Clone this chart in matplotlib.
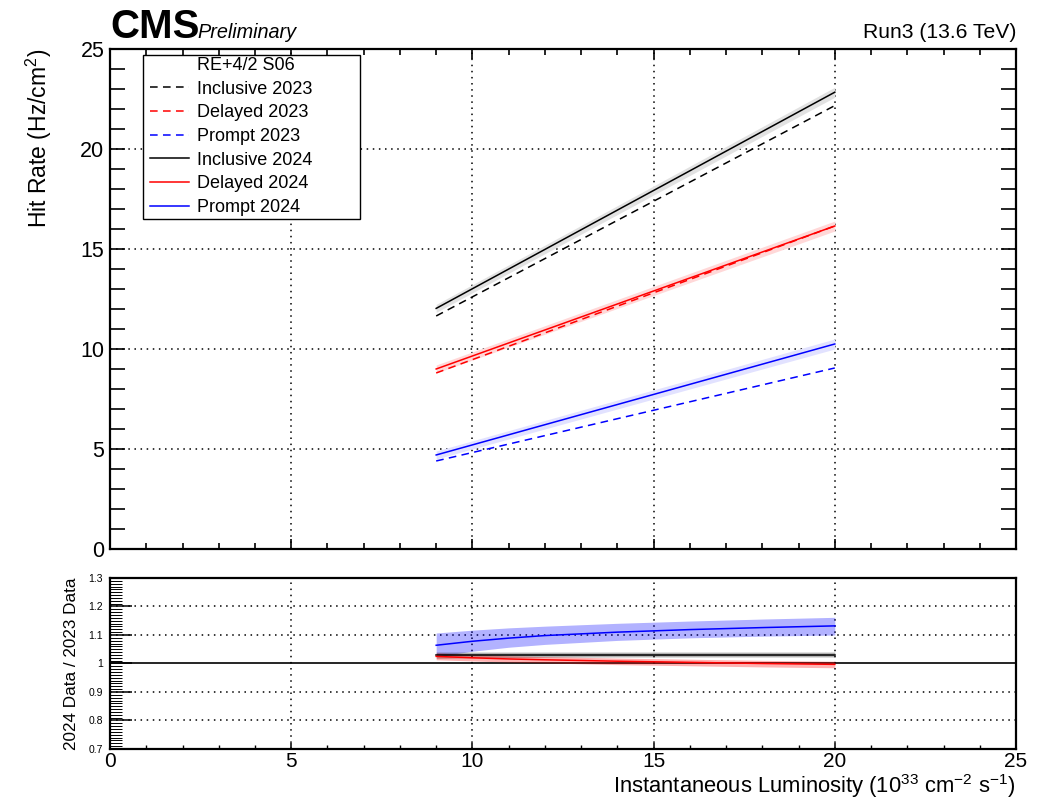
import numpy as np
import matplotlib.pyplot as plt
from matplotlib.lines import Line2D
from matplotlib.patches import Rectangle
from matplotlib.ticker import MultipleLocator, FixedLocator

plt.rcParams['font.family'] = ['Liberation Sans', 'DejaVu Sans']
plt.rcParams['mathtext.fontset'] = 'custom'
plt.rcParams['mathtext.rm'] = 'Liberation Sans'

# fitted lines, values at lumi 9 and 20
lumi = [9, 20]
incl_2023 = [11.65, 22.17]
delay_2023 = [8.8, 16.15]
prompt_2023 = [4.4, 9.05]
incl_2024 = [12.03, 22.84]
delay_2024 = [9.0, 16.15]
prompt_2024 = [4.7, 10.25]
band_2024 = [0.2, 0.25]  # half width of the 2024 fit bands

# ratio 2024/2023
lumi_r = [9, 10, 11, 12, 14, 16, 18, 20]
ratio_incl = [1.031, 1.031, 1.031, 1.031, 1.031, 1.031, 1.031, 1.031]
ratio_incl_lo = [1.018, 1.020, 1.021, 1.022, 1.023, 1.023, 1.023, 1.023]
ratio_incl_hi = [1.040, 1.040, 1.040, 1.040, 1.040, 1.040, 1.040, 1.040]
ratio_delay = [1.025, 1.020, 1.016, 1.013, 1.008, 1.004, 1.000, 0.997]
ratio_delay_lo = [1.013, 1.009, 1.005, 1.002, 0.996, 0.992, 0.988, 0.985]
ratio_delay_hi = [1.037, 1.032, 1.027, 1.024, 1.019, 1.015, 1.011, 1.008]
ratio_prompt = [1.064, 1.078, 1.089, 1.098, 1.110, 1.119, 1.126, 1.132]
ratio_prompt_lo = [1.025, 1.043, 1.057, 1.067, 1.081, 1.090, 1.096, 1.100]
ratio_prompt_hi = [1.107, 1.117, 1.125, 1.131, 1.141, 1.149, 1.156, 1.162]

fig = plt.figure(figsize=(10.43, 8.02), dpi=100)
ax = fig.add_axes([0.1055, 0.3155, 0.8686, 0.6234])
axr = fig.add_axes([0.1055, 0.0661, 0.8686, 0.2132])

dash = (0, (5, 3.5))
lw = 1.1
grid = (0, (1, 3))
x = np.array(lumi)
b = np.array(band_2024)
for y24, y23, col, bcol in [(incl_2024, incl_2023, 'black', '#e2e2e2'),
                            (delay_2024, delay_2023, 'red', '#ffd8d8'),
                            (prompt_2024, prompt_2023, 'blue', '#e2e2ff')]:
    y24 = np.array(y24)
    ax.fill_between(x, y24 - b, y24 + b, color=bcol, lw=0, zorder=2)
    ax.plot(x, y23, color=col, ls=dash, lw=lw, zorder=3)
    ax.plot(x, y24, color=col, lw=lw, zorder=3)

ax.set_xlim(0, 25)
ax.set_ylim(0, 25)
ax.xaxis.set_major_locator(MultipleLocator(5))
ax.xaxis.set_minor_locator(MultipleLocator(1))
ax.yaxis.set_major_locator(MultipleLocator(5))
ax.yaxis.set_minor_locator(MultipleLocator(1))
ax.tick_params(axis='both', which='both', direction='in', top=True, right=True, width=1.2)
ax.tick_params(axis='y', which='both', length=10.5, labelsize=15.5, pad=4)
ax.tick_params(axis='x', which='major', length=7)
ax.tick_params(axis='x', which='minor', length=4.5)
ax.tick_params(axis='x', labelbottom=False)
for v in [5, 10, 15, 20]:
    ax.axvline(v, color='black', lw=1.1, ls=grid, zorder=1)
    ax.axhline(v, color='black', lw=1.1, ls=grid, zorder=1)
for s in ax.spines.values():
    s.set_linewidth(1.6)
ax.set_ylabel('Hit Rate (Hz/cm$^{2}$)', fontsize=16.5, ha='right', va='center')
ax.yaxis.set_label_coords(-0.078, 1.0)

# legend: box drawn by hand, entries without frame
handles = [Line2D([], [], color='none'),
           Line2D([], [], color='black', ls=dash, lw=lw),
           Line2D([], [], color='red', ls=dash, lw=lw),
           Line2D([], [], color='blue', ls=dash, lw=lw),
           Line2D([], [], color='black', lw=lw),
           Line2D([], [], color='red', lw=lw),
           Line2D([], [], color='blue', lw=lw)]
labels = ['RE+4/2 S06', 'Inclusive 2023', 'Delayed 2023', 'Prompt 2023',
          'Inclusive 2024', 'Delayed 2024', 'Prompt 2024']
leg = ax.legend(handles, labels, loc='upper left', bbox_to_anchor=(0.0442, 0.984),
                fontsize=13, frameon=False, handlelength=2.16, handletextpad=0.44,
                labelspacing=0.37, borderpad=0, borderaxespad=0)
leg.set_zorder(6)
ax.add_patch(Rectangle((0.0364, 0.66), 0.2395, 0.328, transform=ax.transAxes,
                       facecolor='white', edgecolor='black', lw=1.0, zorder=5))

# ratio panel
axr.fill_between(lumi_r, ratio_prompt_lo, ratio_prompt_hi, color='#0000ff', alpha=0.3, lw=0, zorder=2)
axr.fill_between(lumi_r, ratio_incl_lo, ratio_incl_hi, color='black', alpha=0.3, lw=0, zorder=2)
axr.fill_between(lumi_r, ratio_delay_lo, ratio_delay_hi, color='#ff0000', alpha=0.3, lw=0, zorder=2)
axr.plot(lumi_r, ratio_prompt, color='blue', lw=lw, zorder=3)
axr.plot(lumi_r, ratio_incl, color='black', lw=lw, zorder=3)
axr.plot(lumi_r, ratio_delay, color='red', lw=lw, zorder=3)

axr.set_xlim(0, 25)
axr.set_ylim(0.7, 1.3)
axr.xaxis.set_major_locator(MultipleLocator(5))
axr.xaxis.set_minor_locator(MultipleLocator(1))
axr.yaxis.set_minor_locator(MultipleLocator(0.01))
axr.yaxis.set_major_locator(FixedLocator([0.7, 0.8, 0.9, 1.0, 1.1, 1.2, 1.3]))
axr.set_yticklabels(['0.7', '0.8', '0.9', '1', '1.1', '1.2', '1.3'])
axr.tick_params(axis='both', which='both', direction='in', top=False, right=False)
axr.tick_params(axis='y', which='major', length=16, width=1.1, labelsize=7.5, pad=5)
axr.tick_params(axis='y', which='minor', length=8.5, width=0.7)
axr.tick_params(axis='x', which='major', length=4, width=1.1, labelsize=15, pad=2)
axr.tick_params(axis='x', which='minor', length=3, width=1.0)
for v in [5, 10, 15, 20]:
    axr.axvline(v, color='black', lw=1.1, ls=grid, zorder=1)
for v in [0.8, 0.9, 1.1, 1.2]:
    axr.axhline(v, color='black', lw=1.1, ls=grid, zorder=1)
axr.axhline(1.0, color='black', lw=1.2, zorder=1)
for s in axr.spines.values():
    s.set_linewidth(1.6)
axr.set_ylabel('2024 Data / 2023 Data', fontsize=12.3, va='center')
axr.yaxis.set_label_coords(-0.042, 0.5)

fig.text(0.9741, 0.0115, 'Instantaneous Luminosity (10$^{33}$ cm$^{-2}$ s$^{-1}$)',
         fontsize=15.8, ha='right', va='baseline')
fig.text(0.1055, 0.952, 'CMS', fontsize=29, fontweight='bold', ha='left', va='baseline')
fig.text(0.189, 0.952, 'Preliminary', fontsize=14.3, style='italic', ha='left', va='baseline')
fig.text(0.9741, 0.952, 'Run3 (13.6 TeV)', fontsize=15.2, ha='right', va='baseline')

plt.savefig('out.png', dpi=100)
